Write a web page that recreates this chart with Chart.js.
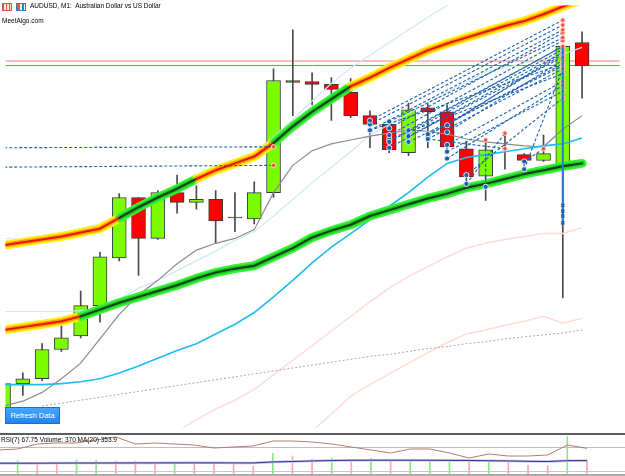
<!DOCTYPE html>
<html>
<head>
<meta charset="utf-8">
<script src="https://cdn.jsdelivr.net/npm/chart.js@4.4.1/dist/chart.umd.min.js"></script>
<style>
  html, body { margin: 0; padding: 0; background: #fff; overflow: hidden; }
  #wrap { position: relative; width: 625px; height: 476px; font-family: "Liberation Sans", Arial, sans-serif; }
  #mainChart { position: absolute; left: 0; top: 0; }
  #subChart { position: absolute; left: 0; top: 435px; }
  #sep { position: absolute; left: 0; top: 433px; width: 625px; height: 2px; background: #5c5c5c; }
  #bottomLine { position: absolute; left: 0; top: 474px; width: 625px; height: 2px; background: #a9a9a9; }
  .txt { position: absolute; color: #000; font-size: 6.5px; white-space: nowrap; line-height: 1; }
  .ico { position: absolute; top: 3px; width: 10px; height: 8px; box-sizing: border-box; }
  #ico1 { left: 2px; border: 1px solid #e0544a; background: repeating-linear-gradient(90deg, #e0544a 0 1px, #fbe3e0 1px 3px); }
  #ico2 { left: 16px; border: 1px solid #3a78c8; background: linear-gradient(90deg, #e0544a 0 3px, #fff 3px 5px, #3a78c8 5px 7px, #fff 7px); }
  #refresh { position: absolute; left: 5px; top: 407px; width: 55px; height: 17px; box-sizing: border-box;
             background: linear-gradient(#45a6ff, #1f86ec); border: 1px solid #1a6fc4; color: #fff;
             font-size: 7.5px; line-height: 15px; text-align: center; }
</style>
</head>
<body>
<div id="wrap">
  <canvas id="mainChart" width="625" height="433"></canvas>
  <div id="sep"></div>
  <canvas id="subChart" width="625" height="39"></canvas>
  <div id="bottomLine"></div>
  <div class="ico" id="ico1"></div>
  <div class="ico" id="ico2"></div>
  <div class="txt" style="left:30px;top:3px;">AUDUSD, M1:&nbsp; Australian Dollar vs US Dollar</div>
  <div class="txt" style="left:2px;top:18px;">MeetAlgo.com</div>
  <div class="txt" style="left:1px;top:437px;">RSI(7) 67.75 Volume: 370 MA(20) 353.9</div>
  <div id="refresh">Refresh Data</div>
</div>
<script>
// candles, one per minute, oldest first
const opens  = [0.65005,0.65042,0.65047,0.65077,0.65091,0.65122,0.65171,0.65233,0.65191,0.65238,0.65228,0.65231,0.65213,0.65211,0.65238,0.65353,0.65352,0.65349,0.65341,0.65317,0.65308,0.65279,0.65325,0.65321,0.65283,0.65255,0.65280,0.65277,0.65271,0.65264,0.65392];
const highs  = [0.65044,0.65053,0.65083,0.65104,0.65137,0.65177,0.65237,0.65233,0.65240,0.65256,0.65245,0.65240,0.65238,0.65249,0.65365,0.65405,0.65361,0.65356,0.65355,0.65322,0.65312,0.65330,0.65330,0.65328,0.65290,0.65292,0.65299,0.65278,0.65297,0.65388,0.65403];
const lows   = [0.65002,0.65030,0.65045,0.65075,0.65089,0.65105,0.65168,0.65153,0.65190,0.65217,0.65221,0.65186,0.65198,0.65206,0.65233,0.65317,0.65328,0.65312,0.65315,0.65284,0.65279,0.65276,0.65284,0.65278,0.65248,0.65230,0.65262,0.65266,0.65270,0.65130,0.65335];
const closes = [0.65042,0.65047,0.65077,0.65089,0.65122,0.65172,0.65233,0.65191,0.65238,0.65228,0.65231,0.65209,0.65212,0.65238,0.65353,0.65351,0.65349,0.65344,0.65317,0.65308,0.65282,0.65323,0.65321,0.65285,0.65254,0.65282,0.65280,0.65271,0.65278,0.65388,0.65368];

// indicator lines
const upperBand = [0.65184,0.65187,0.65190,0.65193,0.65197,0.65201,0.65212,0.65223,0.65233,0.65242,0.65252,0.65261,0.65268,0.65275,0.65289,0.65306,0.65321,0.65334,0.65347,0.65356,0.65366,0.65375,0.65384,0.65391,0.65397,0.65403,0.65409,0.65414,0.65421,0.65429,0.65436];
const lowerBand = [0.65097,0.65100,0.65103,0.65106,0.65111,0.65118,0.65125,0.65131,0.65137,0.65143,0.65150,0.65156,0.65160,0.65163,0.65172,0.65181,0.65192,0.65199,0.65205,0.65214,0.65220,0.65226,0.65232,0.65237,0.65243,0.65247,0.65252,0.65257,0.65261,0.65265,0.65268];
const upperGreen = [[6, 10], [14, 18]];   // bar ranges where the band turns green
const lowerGreen = [[4, 30]];
const fastMa = [0.65019,0.65024,0.65033,0.65047,0.65063,0.65088,0.65113,0.65133,0.65148,0.65165,0.65179,0.65186,0.65191,0.65200,0.65238,0.65266,0.65281,0.65288,0.65292,0.65296,0.65299,0.65302,0.65301,0.65298,0.65293,0.65290,0.65288,0.65286,0.65285,0.65303,0.65317];
const slowMa = [0.65041,0.65041,0.65041,0.65042,0.65044,0.65047,0.65053,0.65060,0.65068,0.65076,0.65083,0.65093,0.65103,0.65115,0.65131,0.65148,0.65166,0.65182,0.65196,0.65210,0.65224,0.65238,0.65254,0.65268,0.65274,0.65277,0.65280,0.65283,0.65286,0.65288,0.65294];
const lightUpper = [0.65191,0.65190,0.65191,0.65196,0.65201,0.65206,0.65216,0.65227,0.65237,0.65246,0.65256,0.65265,0.65272,0.65279,0.65295,0.65313,0.65332,0.65350,0.65366,0.65379,0.65392,0.65405,0.65418,0.65430,0.65440,null,null,null,null,null,null];
const lightLower = [0.65116,0.65116,0.65116,0.65116,0.65117,0.65118,0.65128,0.65140,0.65148,0.65158,0.65168,0.65178,0.65189,0.65198,0.65214,0.65231,0.65248,0.65264,0.65280,0.65297,0.65308,0.65319,0.65330,0.65341,0.65352,0.65362,0.65366,0.65371,0.65375,0.65380,0.65387];
const pinkUpper = [null,null,null,null,null,null,null,null,null,0.64993,0.65005,0.65016,0.65025,0.65036,0.65051,0.65066,0.65081,0.65096,0.65111,0.65126,0.65140,0.65152,0.65162,0.65172,0.65181,0.65186,0.65190,0.65193,0.65196,0.65196,0.65202];
const pinkLower = [null,null,null,null,null,null,null,null,null,null,null,null,null,null,null,null,0.64993,0.65011,0.65029,0.65041,0.65052,0.65063,0.65074,0.65084,0.65093,0.65097,0.65102,0.65106,0.65111,0.65104,0.65109];
const trendLine = [null,null,0.65019,0.65022,0.65025,0.65028,0.65031,0.65034,0.65037,0.65040,0.65043,0.65046,0.65049,0.65052,0.65055,0.65058,0.65061,0.65064,0.65067,0.65070,0.65072,0.65075,0.65078,0.65080,0.65083,0.65085,0.65088,0.65090,0.65092,0.65094,0.65097];
const priceLevels = [0.65373, 0.65369];

// trades: open bar/price -> close bar/price
const tradeOpenBar    = [-1,-1,19,19,20,20,20,20,21,22,22,23,23,23,24,24,25,27,27,21,19,22,19,20,21,22,23,20,23,21];
const tradeOpenPrice  = [0.65284,0.65264,0.65312,0.65302,0.65311,0.65297,0.65290,0.65284,0.65296,0.65298,0.65293,0.65307,0.65287,0.65273,0.65256,0.65247,0.65244,0.65262,0.65270,0.65302,0.65302,0.65293,0.65308,0.65304,0.65299,0.65296,0.65300,0.65293,0.65280,0.65290];
const tradeCloseBar   = [14,14,29,29,29,29,29,29,29,29,29,29,29,29,29,26,25,29,28,29,29,26,29,29,29,29,29,29,29,29];
const tradeClosePrice = [0.65285,0.65266,0.65415,0.65405,0.65397,0.65394,0.65388,0.65382,0.65377,0.65370,0.65365,0.65382,0.65352,0.65348,0.65335,0.65299,0.65292,0.65365,0.65283,0.65388,0.65370,0.65283,0.65410,0.65402,0.65385,0.65380,0.65374,0.65360,0.65342,0.65368];
const pendingBar = 29;
const pendingPrices = [0.65387, 0.65225, 0.65219, 0.65214, 0.65207];

// sub window
const rsi = [65.0,66.7,75.0,76.7,76.7,81.7,86.7,75.0,76.7,75.0,73.3,68.3,70.0,71.7,80.0,80.0,78.3,75.0,70.0,65.0,60.0,66.7,66.7,60.0,51.7,58.3,55.0,55.0,56.7,73.3,67.75];
const rsiLevels = [70, 30];
const volumes = [330,351,282,264,370,370,343,340,299,305,299,295,282,211,546,475,387,414,370,414,343,351,370,375,343,370,325,238,220,985,370];
const volumeMa = [285,285,286,288,290,290,292,293,293,294,295,294,293,292,318,330,345,355,362,365,365,364,362,360,357,350,345,335,330,352,353.9];

const bars = closes.map((_, i) => i);
const pts = arr => arr.map((v, i) => ({x: i, y: v}));

// horizontal lines at fixed values of a scale
const levelLines = {
    id: 'levelLines',
    beforeDatasetsDraw(chart, args, opts) {
        const ctx = chart.ctx;
        const area = chart.chartArea;
        const scale = chart.scales[opts.scaleId];
        opts.values.forEach((v, k) => {
            const y = Math.round(scale.getPixelForValue(v)) + (opts.widths[k] % 2 ? 0.5 : 0);
            ctx.save();
            ctx.strokeStyle = opts.colors[k];
            ctx.lineWidth = opts.widths[k];
            ctx.beginPath();
            ctx.moveTo(area.left, y);
            ctx.lineTo(area.right, y);
            ctx.stroke();
            ctx.restore();
        });
    }
};

function thinLine(values, color, width, order, dash) {
    return {
        type: 'line', data: pts(values), borderColor: color, borderWidth: width,
        borderDash: dash || [], pointRadius: 0, tension: 0, spanGaps: false, order: order
    };
}

function bandLayers(values, greenRanges, order) {
    const isGreen = ctx => greenRanges.some(([a, b]) => ctx.p0DataIndex >= a && ctx.p0DataIndex < b);
    const layers = [
        {w: 9, warm: '#ffee1a', cool: '#36f236'},
        {w: 5, warm: '#ffa200', cool: '#1fc81f'},
        {w: 2, warm: '#ec1400', cool: '#0d3f1a'}
    ];
    return layers.map((l, k) => ({
        type: 'line', data: pts(values), borderWidth: l.w, borderColor: l.warm,
        segment: { borderColor: ctx => isGreen(ctx) ? l.cool : l.warm },
        borderCapStyle: 'round', borderJoinStyle: 'round',
        pointRadius: 0, tension: 0, order: order - k
    }));
}

const tradeSets = tradeOpenBar.map((ob, k) => ({
    type: 'line',
    data: [{x: ob, y: tradeOpenPrice[k]}, {x: tradeCloseBar[k], y: tradeClosePrice[k]}],
    borderColor: '#1a62b0', borderWidth: 1.1, borderDash: [3, 2],
    pointRadius: [2.6, 2.2], pointBorderWidth: 1,
    pointBackgroundColor: ['#1c5fae', '#f0503a'],
    pointBorderColor: ['#dce9f7', '#ffd6cf'],
    order: 5
}));

const mainCtx = document.getElementById('mainChart').getContext('2d');
new Chart(mainCtx, {
    type: 'bar',
    data: {
        datasets: [
            {
                type: 'bar',
                data: bars.map(i => ({x: i, y: [lows[i], highs[i]]})),
                backgroundColor: '#4a4a4a', barThickness: 1, grouped: false, order: 50
            },
            {
                type: 'bar',
                data: bars.map(i => ({x: i, y: [opens[i], closes[i]]})),
                backgroundColor: bars.map(i => closes[i] >= opens[i] ? '#7cfc00' : '#ff0000'),
                borderColor: '#3a3a3a', borderWidth: 1, borderSkipped: false,
                barThickness: 14, grouped: false, order: 49
            },
            thinLine(pinkUpper, '#ffdcd6', 1.5, 40),
            thinLine(pinkLower, '#ffdcd6', 1.5, 40),
            thinLine(trendLine, '#a8a8a8', 1, 39, [2, 2]),
            thinLine(lightUpper, '#cde9f3', 1.2, 38),
            thinLine(lightLower, '#cde9f3', 1.2, 38),
            thinLine(fastMa, '#8c8c8c', 1.2, 37),
            thinLine(slowMa, '#1cbcf6', 1.6, 36),
            ...bandLayers(lowerBand, lowerGreen, 30),
            ...bandLayers(upperBand, upperGreen, 26),
            ...tradeSets,
            {
                type: 'line',
                data: pendingPrices.map(p => ({x: pendingBar, y: p})),
                borderColor: '#2a78cc', borderWidth: 2,
                pointRadius: pendingPrices.map((p, k) => k === 0 ? 0 : 2.2),
                pointStyle: 'crossRot', pointBorderColor: '#1c5fae', pointBorderWidth: 1.5,
                order: 4
            }
        ]
    },
    options: {
        responsive: false,
        animation: false,
        events: [],
        layout: { padding: 0 },
        scales: {
            x: { type: 'linear', display: false, min: 0.102, max: 31.94, offset: false },
            y: { type: 'linear', display: false, min: 0.64997, max: 0.65430 }
        },
        plugins: {
            legend: { display: false },
            tooltip: { enabled: false },
            levelLines: { scaleId: 'y', values: priceLevels, colors: ['#ffbcbc', '#5aa85a'], widths: [2, 1] }
        }
    },
    plugins: [levelLines]
});

const subCtx = document.getElementById('subChart').getContext('2d');
new Chart(subCtx, {
    type: 'bar',
    data: {
        datasets: [
            {
                type: 'bar',
                data: bars.map(i => ({x: i, y: volumes[i]})),
                backgroundColor: bars.map(i => i === 0 || volumes[i] >= volumes[i - 1] ? '#8ee68e' : '#ffaaaa'),
                barThickness: 1, grouped: false, yAxisID: 'yVol', order: 20
            },
            {
                type: 'line', data: pts(volumeMa), borderColor: '#c3c3ee', borderWidth: 2.5,
                pointRadius: 0, tension: 0, yAxisID: 'yVol', order: 11
            },
            {
                type: 'line', data: pts(volumeMa), borderColor: '#2e2f8e', borderWidth: 1,
                pointRadius: 0, tension: 0, yAxisID: 'yVol', order: 10
            },
            {
                type: 'line', data: pts(rsi), borderColor: '#b27e69', borderWidth: 1,
                pointRadius: 0, tension: 0, yAxisID: 'yRsi', order: 5
            }
        ]
    },
    options: {
        responsive: false,
        animation: false,
        events: [],
        layout: { padding: 0 },
        scales: {
            x: { type: 'linear', display: false, min: 0.102, max: 31.94, offset: false },
            yRsi: { type: 'linear', display: false, min: 25, max: 90 },
            yVol: { type: 'linear', display: false, min: 0, max: 1030 }
        },
        plugins: {
            legend: { display: false },
            tooltip: { enabled: false },
            levelLines: { scaleId: 'yRsi', values: rsiLevels, colors: ['#bdbdbd', '#c8c8c8'], widths: [1, 1] }
        }
    },
    plugins: [levelLines]
});
</script>
</body>
</html>
